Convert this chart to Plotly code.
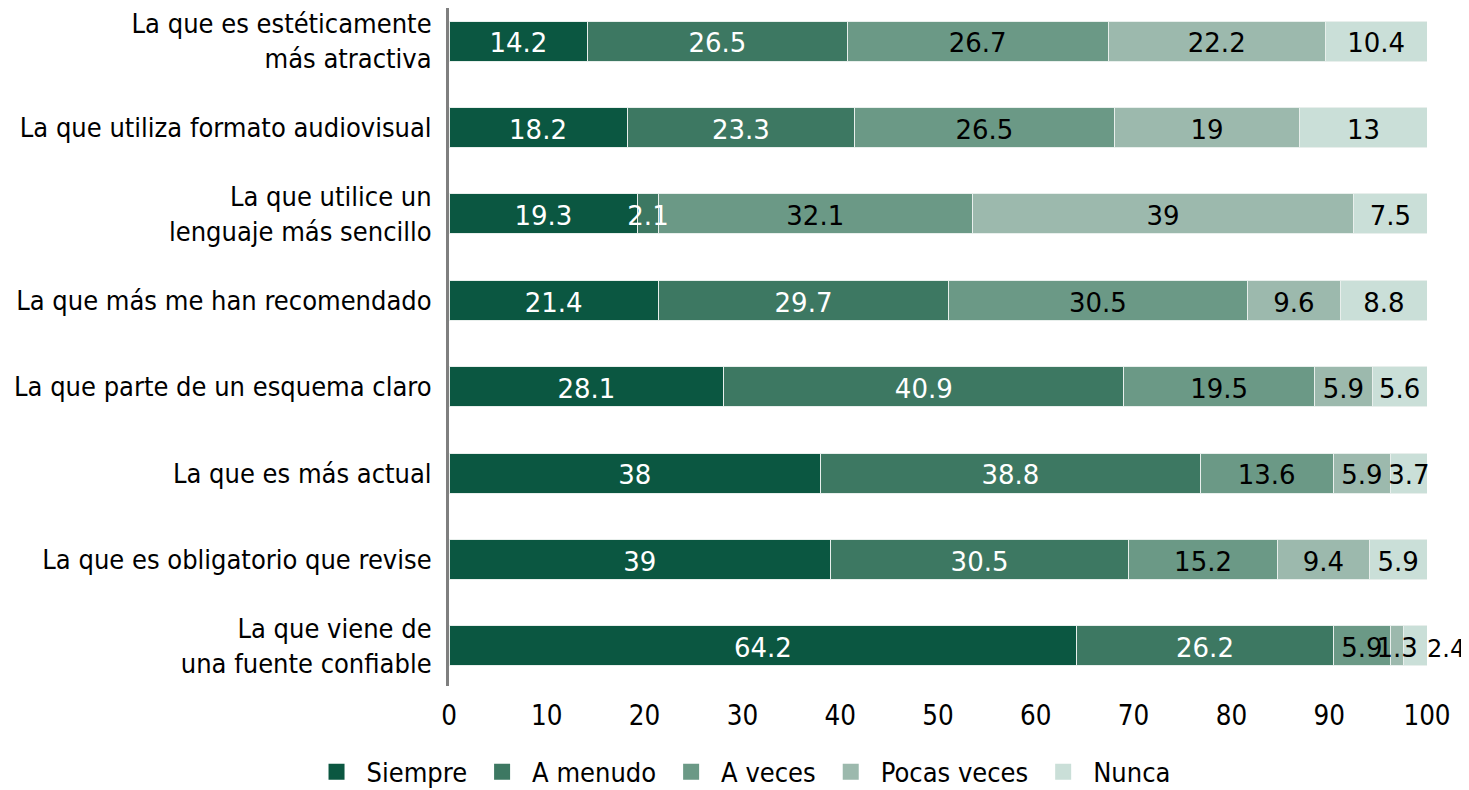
import plotly.graph_objects as go

# categorias, de arriba hacia abajo
categorias = [
    "La que es estéticamente<br>más atractiva",
    "La que utiliza formato audiovisual",
    "La que utilice un<br>lenguaje más sencillo",
    "La que más me han recomendado",
    "La que parte de un esquema claro",
    "La que es más actual",
    "La que es obligatorio que revise",
    "La que viene de<br>una fuente confiable",
]

siempre = [14.2, 18.2, 19.3, 21.4, 28.1, 38, 39, 64.2]
a_menudo = [26.5, 23.3, 2.1, 29.7, 40.9, 38.8, 30.5, 26.2]
a_veces = [26.7, 26.5, 32.1, 30.5, 19.5, 13.6, 15.2, 5.9]
pocas_veces = [22.2, 19, 39, 9.6, 5.9, 5.9, 9.4, 1.3]
nunca = [10.4, 13, 7.5, 8.8, 5.6, 3.7, 5.9, 2.4]

series = [
    ("Siempre", siempre, "#0b5741", "white"),
    ("A menudo", a_menudo, "#3d7862", "white"),
    ("A veces", a_veces, "#6b9986", "black"),
    ("Pocas veces", pocas_veces, "#9cb9ad", "black"),
    ("Nunca", nunca, "#cadfd8", "black"),
]

label_font = "DejaVu Sans Condensed, sans-serif"
value_font = "DejaVu Sans, sans-serif"

fig = go.Figure()

# barras
for nombre, valores, color, txtcolor in series:
    fig.add_trace(go.Bar(
        name=nombre,
        y=categorias,
        x=valores,
        orientation="h",
        marker=dict(color=color, line=dict(color="#e8efec", width=1)),
        showlegend=False,
        hoverinfo="x+name",
    ))

# etiquetas de valores encima de todas las barras (eje y2 un poco desplazado)
base = [0] * len(categorias)
for nombre, valores, color, txtcolor in series:
    xs, pos, sizes = [], [], []
    for i, v in enumerate(valores):
        if nombre == "Nunca" and i == len(valores) - 1:
            # el 2.4 va a la derecha de la barra
            xs.append(round(base[i] + v, 6))
            pos.append("middle right")
            sizes.append(24)
        else:
            xs.append(round(base[i] + v / 2, 6))
            pos.append("middle center")
            sizes.append(26)
        base[i] += v
    fig.add_trace(go.Scatter(
        x=xs,
        y=categorias,
        yaxis="y2",
        mode="text",
        text=[f"{v:g}" for v in valores],
        textposition=pos,
        textfont=dict(family=value_font, size=sizes, color=txtcolor),
        cliponaxis=False,
        showlegend=False,
        hoverinfo="skip",
    ))

# leyenda
for nombre, valores, color, txtcolor in series:
    fig.add_trace(go.Scatter(
        x=[None], y=[None],
        mode="markers",
        name=nombre,
        marker=dict(symbol="square", size=30, color=color),
    ))

fig.update_layout(
    width=1469,
    height=790,
    paper_bgcolor="white",
    plot_bgcolor="white",
    barmode="stack",
    bargap=0.537,
    margin=dict(l=441, r=50, t=0, b=112, autoexpand=False),
    font=dict(family=label_font, size=26, color="black"),
    legend=dict(
        orientation="h",
        x=0.2986, xanchor="center",
        y=-0.127, yanchor="middle",
        font=dict(family=label_font, size=27),
        itemsizing="trace",
        itemwidth=50,
        traceorder="normal",
    ),
    yaxis2=dict(
        overlaying="y",
        categoryorder="array",
        categoryarray=categorias,
        range=[7.463 - 0.055, -0.382 - 0.055],
        visible=False,
    ),
)

fig.update_xaxes(
    range=[0, 100],
    dtick=10,
    tickangle=0,
    showgrid=False,
    zeroline=False,
    showline=False,
    ticks="",
    ticklabelstandoff=10,
    tickfont=dict(family=label_font, size=27.5),
)

fig.update_yaxes(
    selector=dict(overlaying=None),
    categoryorder="array",
    categoryarray=categorias,
    range=[7.463, -0.382],
    showgrid=False,
    zeroline=False,
    showline=True,
    linecolor="#7f7f7f",
    linewidth=3,
    ticks="",
    ticklabelstandoff=9,
    tickfont=dict(family=label_font, size=27),
)

fig.write_html("out.html")
